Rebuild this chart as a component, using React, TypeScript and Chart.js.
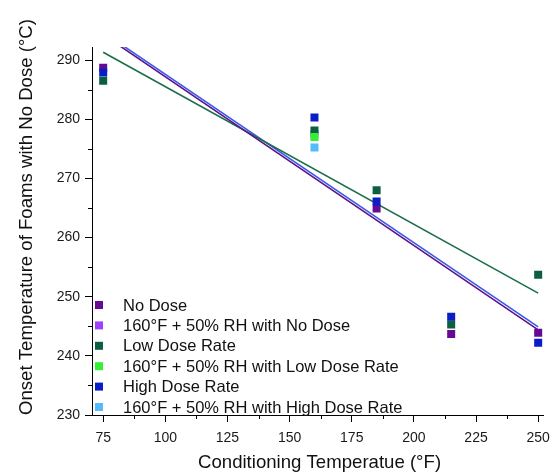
import React, { useEffect, useRef } from "react";
import { Chart, registerables } from "chart.js";

Chart.register(...registerables);

// ---- data ----
const tempsMain = [75, 160, 185, 215, 250];
const tempsNoDose = [75, 185, 215, 250];
const tempsHumid = [160];

const noDose = [288.7, 264.9, 243.7, 243.9];
const humidNoDose = [277.5];
const lowDose = [286.5, 278.1, 268.0, 245.3, 253.7];
const humidLowDose = [277.0];
const highDose = [287.9, 280.3, 266.1, 246.6, 242.2];
const humidHighDose = [275.2];

const fitX = [75, 250];
const noDoseFit = [294.3, 244.4];
const lowDoseFit = [291.3, 250.6];
const highDoseFit = [294.7, 244.9];

const xTicks = [75, 100, 125, 150, 175, 200, 225, 250];
const xMinor = [87.5, 112.5, 137.5, 162.5, 187.5, 212.5, 237.5];
const yTicks = [230, 240, 250, 260, 270, 280, 290];
const yMinor = [235, 245, 255, 265, 275, 285];

const xTitle = "Conditioning Temperatue (°F)";
const yTitle = "Onset Temperature of Foams with No Dose (°C)";

const FONT = "'Liberation Sans', Arial, sans-serif";

const pts = (xs: number[], ys: number[]) => xs.map((x, i) => ({ x, y: ys[i] }));

const extrasPlugin = {
  id: "extras",
  afterDraw(chart: any) {
    const { ctx, chartArea, scales } = chart;
    const xs = scales.x;
    const ys = scales.y;
    ctx.save();
    // minor ticks
    ctx.strokeStyle = "#000";
    ctx.lineWidth = 1;
    ctx.beginPath();
    xMinor.forEach((v) => {
      const px = Math.round(xs.getPixelForValue(v)) + 0.5;
      ctx.moveTo(px, chartArea.bottom);
      ctx.lineTo(px, chartArea.bottom + 4);
    });
    yMinor.forEach((v) => {
      const py = Math.round(ys.getPixelForValue(v)) + 0.5;
      ctx.moveTo(chartArea.left, py);
      ctx.lineTo(chartArea.left - 4, py);
    });
    ctx.stroke();

    // axis titles
    ctx.fillStyle = "#111";
    ctx.font = `18.6px ${FONT}`;
    ctx.textAlign = "center";
    ctx.textBaseline = "middle";
    ctx.fillText(xTitle, (chartArea.left + chartArea.right) / 2 + 2, 463);
    ctx.save();
    ctx.translate(27, 217);
    ctx.rotate(-Math.PI / 2);
    ctx.fillText(yTitle, 0, 0);
    ctx.restore();

    // legend
    const items = chart.data.datasets.filter((d: any) => d.type === "scatter");
    ctx.font = `16.5px ${FONT}`;
    ctx.textAlign = "left";
    items.forEach((d: any, i: number) => {
      const cy = chartArea.bottom - 110 + i * 20.4;
      ctx.fillStyle = d.backgroundColor;
      ctx.fillRect(chartArea.left + 3, cy - 4, 8, 8);
      ctx.fillStyle = "#111";
      ctx.fillText(d.label, chartArea.left + 31, cy + 1);
    });
    ctx.restore();
  },
};

export default function App() {
  const ref = useRef<HTMLCanvasElement | null>(null);

  useEffect(() => {
    if (!ref.current) return;
    const scatter = (label: string, xs: number[], ys: number[], color: string, order: number) => ({
      type: "scatter" as const,
      label,
      data: pts(xs, ys),
      backgroundColor: color,
      borderColor: color,
      borderWidth: 0,
      pointStyle: "rect",
      pointRadius: 5.66,
      order,
    });
    const line = (label: string, ys: number[], color: string) => ({
      type: "line" as const,
      label,
      data: pts(fitX, ys),
      borderColor: color,
      backgroundColor: color,
      borderWidth: 1.6,
      pointRadius: 0,
      fill: false,
      order: 20,
    });

    const chart = new Chart(ref.current, {
      type: "scatter",
      data: {
        datasets: [
          scatter("No Dose", tempsNoDose, noDose, "#660a96", 6),
          scatter("160°F + 50% RH with No Dose", tempsHumid, humidNoDose, "#a040ff", 5),
          scatter("Low Dose Rate", tempsMain, lowDose, "#0b6040", 4),
          scatter("160°F + 50% RH with Low Dose Rate", tempsHumid, humidLowDose, "#33f033", 3),
          scatter("High Dose Rate", tempsMain, highDose, "#0a1ec8", 2),
          scatter("160°F + 50% RH with High Dose Rate", tempsHumid, humidHighDose, "#55bbff", 1),
          line("No Dose fit", noDoseFit, "#5c1488"),
          line("Low Dose fit", lowDoseFit, "#1a6e48"),
          line("High Dose fit", highDoseFit, "#3a58f0"),
        ] as any,
      },
      options: {
        animation: false,
        responsive: true,
        maintainAspectRatio: false,
        layout: { padding: { top: 47, right: 13, left: 0, bottom: 0 } },
        plugins: { legend: { display: false }, tooltip: { enabled: false } },
        scales: {
          x: {
            type: "linear",
            min: 70.5,
            max: 252,
            afterBuildTicks: (s: any) => {
              s.ticks = xTicks.map((v) => ({ value: v }));
            },
            afterFit: (s: any) => {
              s.height = 61;
            },
            grid: { display: true, drawOnChartArea: false, drawTicks: true, tickLength: 7, color: "#000" },
            border: { display: true, color: "#000", width: 1 },
            ticks: { color: "#1a1a1a", padding: 8, font: { family: FONT, size: 14 } },
          },
          y: {
            type: "linear",
            min: 230,
            max: 292.2,
            afterBuildTicks: (s: any) => {
              s.ticks = yTicks.map((v) => ({ value: v }));
            },
            afterFit: (s: any) => {
              s.width = 92;
            },
            grid: { display: true, drawOnChartArea: false, drawTicks: true, tickLength: 7, color: "#000" },
            border: { display: true, color: "#000", width: 1 },
            ticks: { color: "#1a1a1a", padding: 5, font: { family: FONT, size: 14 } },
          },
        },
      },
      plugins: [extrasPlugin],
    });
    return () => chart.destroy();
  }, []);

  return (
    <div style={{ position: "fixed", left: 0, top: 0, width: 558, height: 476, background: "#fff" }}>
      <canvas ref={ref} />
    </div>
  );
}
